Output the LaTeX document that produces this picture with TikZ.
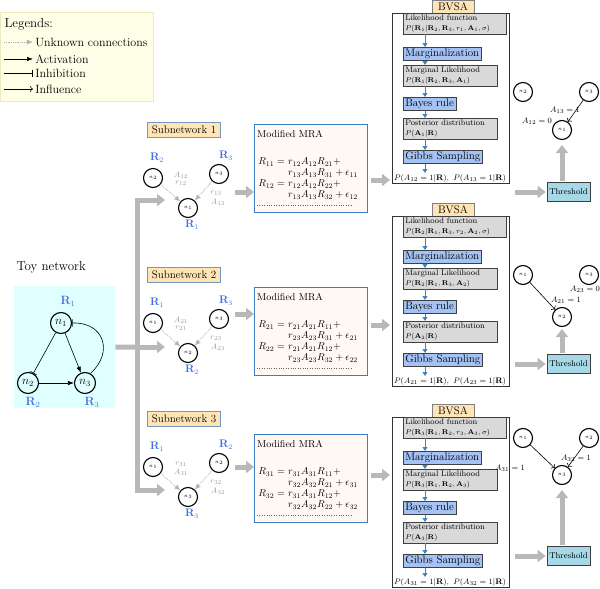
\documentclass[tikz,border=0pt]{standalone}
\usetikzlibrary{arrows.meta}
\definecolor{legbg}{RGB}{255,255,232}
\definecolor{legbd}{RGB}{238,234,190}
\definecolor{toybg}{RGB}{224,255,255}
\definecolor{rblue}{RGB}{70,110,225}
\definecolor{subbg}{RGB}{255,228,181}
\definecolor{subbd}{RGB}{120,150,190}
\definecolor{mrabg}{RGB}{255,248,245}
\definecolor{mrabd}{RGB}{60,125,200}
\definecolor{gbox}{RGB}{217,217,217}
\definecolor{bbox}{RGB}{164,194,244}
\definecolor{sarrow}{RGB}{61,133,198}
\definecolor{thrbg}{RGB}{166,216,231}
\newcommand{\smallmath}{\fontsize{7}{9.5}\selectfont}
\tikzset{
  nd/.style={circle,draw,line width=1.1pt,minimum size=19pt,inner sep=0pt,font=\fontsize{5.5}{5}\selectfont},
  tnd/.style={nd,minimum size=21pt,font=\fontsize{12}{12}\selectfont},
  rlab/.style={text=rblue,inner sep=0pt,font=\fontsize{10.5}{11}\selectfont},
  glab/.style={text=black!40,inner sep=0pt,font=\fontsize{8}{8}\selectfont},
  alab/.style={inner sep=0pt,font=\fontsize{8.5}{8.5}\selectfont},
  unk/.style={draw=black!30,densely dotted,thick,-{Latex[length=6pt,width=5pt]}},
  act/.style={semithick,-{Latex[length=6pt,width=4.5pt]}},
  inh/.style={semithick,-{Bar[width=7pt]}},
  infl/.style={semithick,->},
  big/.style={line width=5pt,draw=black!28},
  bigarrow/.style={big,-{Triangle[length=8pt,width=12pt]}},
  subbox/.style={draw=subbd,fill=subbg,thick,inner xsep=4pt,minimum height=15pt,font=\fontsize{11}{11}\selectfont},
  mrabox/.style={draw=mrabd,fill=mrabg,thick,minimum width=113pt,minimum height=88pt,anchor=north west},
  eq/.style={inner sep=0pt,font=\fontsize{10}{10}\selectfont},
  frm/.style={draw=black!80,semithick,anchor=north west,minimum width=117pt,minimum height=170pt},
  gbx/.style={draw=black!75,fill=gbox,semithick,anchor=north west,align=left,inner sep=2pt,text width=#1,font=\fontsize{8}{9.5}\selectfont},
  bbx/.style={draw=black!75,fill=bbox,semithick,anchor=north west,inner xsep=2pt,inner ysep=0pt,minimum height=13pt,font=\fontsize{11}{11}\selectfont},
  sarr/.style={draw=sarrow,thick,-{Triangle[length=4pt,width=5pt]}},
  thr/.style={draw=black!75,fill=thrbg,semithick,minimum width=43pt,minimum height=19pt,inner sep=0pt,font=\fontsize{8.5}{8.5}\selectfont},
  lbl/.style={draw=black!50,fill=subbg,minimum width=42pt,minimum height=13pt,inner sep=0pt,font=\fontsize{11}{11}\selectfont}
}
\begin{document}
\begin{tikzpicture}[x=1pt,y=-1pt]
\useasboundingbox (0,0) rectangle (600,589);
\node[draw=legbd,fill=legbg,anchor=north west,minimum width=153pt,minimum height=89pt,inner sep=0pt] (leg) at (0,12) {};
\node[anchor=west,font=\fontsize{13}{13}\selectfont] (legh) at (1,24) {Legends:};
\foreach \yy/\st/\txt in {42/unk/Unknown connections,59/act/Activation,73/inh/Inhibition,89/infl/Influence}{
\coordinate (lc\st) at (4,\yy);
\draw[\st] (lc\st) -- ++(29,0) node[right,inner sep=2pt,font=\fontsize{12}{12}\selectfont] (lt\st) {\txt};
}
\node[anchor=west,font=\fontsize{13}{13}\selectfont] (toyt) at (13,267) {Toy network};
\node[fill=toybg,anchor=north west,minimum width=101pt,minimum height=122pt,inner sep=0pt] (toy) at (14,286) {};
\node[tnd] (t1) at (61,323) {$n_1$};
\node[tnd] (t2) at (28,383) {$n_2$};
\node[tnd] (t3) at (85,383) {$n_3$};
\node[rlab,font=\fontsize{11.5}{12}\selectfont] (tr1) at (68,301) {$\mathbf{R}_1$};
\node[rlab,font=\fontsize{11.5}{12}\selectfont] (tr2) at (33,402) {$\mathbf{R}_2$};
\node[rlab,font=\fontsize{11.5}{12}\selectfont] (tr3) at (92,402) {$\mathbf{R}_3$};
\draw[inh] (t1) -- (t2);
\draw[act] (t1) -- (t3);
\draw[act] (t2) -- (t3);
\draw[inh] (t3.60) .. controls (114,352) and (104,322) .. (t1.east);
\coordinate (hub) at (137,347);
\draw[big] (toy.east) -- (hub);
\draw[bigarrow] (hub) |- (165,200);
\draw[bigarrow] (hub) -- (165,347);
\draw[bigarrow] (hub) |- (165,490);
\foreach \r/\a/\b/\yo/\la/\lb/\lc/\ld/\T/\ya in {1/2/3/178/A_{12}/r_{12}/r_{13}/A_{13}/124/192,2/1/3/323/A_{21}/r_{21}/r_{23}/A_{23}/287/314,3/1/2/467/r_{31}/A_{31}/r_{32}/A_{32}/434/467}{
\node[subbox] (sub\r) at (184,\yo-48) {Subnetwork \r};
\node[nd] (sa\r) at (153,\yo) {$n_\a$};
\node[nd] (sb\r) at (219,\yo-4) {$n_\b$};
\node[nd] (st\r) at (188,\yo+30) {$n_\r$};
\node[rlab] (ra\r) at (157,\yo-20) {$\mathbf{R}_\a$};
\node[rlab] (rb\r) at (226,\yo-22) {$\mathbf{R}_\b$};
\node[rlab] (rt\r) at (192,\yo+47) {$\mathbf{R}_\r$};
\draw[unk] (sa\r) -- (st\r);
\draw[unk] (sb\r) -- (st\r);
\node[glab] (ga\r) at (181,\yo-3) {$\la$};
\node[glab] (gb\r) at (181,\yo+5) {$\lb$};
\node[glab] (gc\r) at (216,\yo+15) {$\lc$};
\node[glab] (gd\r) at (218,\yo+24) {$\ld$};
\node[mrabox] (mra\r) at (254,\T) {};
\node[anchor=west,inner sep=0pt,font=\fontsize{10}{10}\selectfont] (mt\r) at (257,\T+10) {Modified MRA};
\foreach \j/\dy in {1/38,2/60}{
\node[eq,anchor=east] (el\r\j) at (288,\T+\dy) {$R_{\r\j}={}$};
\node[eq,anchor=west] (ea\r\j) at (288,\T+\dy) {$r_{\r\a}A_{\r\a}R_{\a\j}+$};
\node[eq,anchor=west] (eb\r\j) at (288,\T+\dy+11) {$r_{\r\b}A_{\r\b}R_{\b\j}+\epsilon_{\r\j}$};
}
\draw[dotted,black!60] ([xshift=3pt,yshift=-81pt]mra\r.north west) -- ++(94,0);
\draw[bigarrow,shorten <=6pt] (sb\r.east |- 0,\ya) -- (mra\r.west |- 0,\ya);
}
\foreach \r/\a/\b/\oy/\yb/\yt in {1/2/3/0/180/192,2/1/3/203/325/364,3/1/2/404/475/556}{
\node[lbl] (bv\r) at (453,\oy+6.5) {BVSA};
\node[frm] (fr\r) at (392,\oy+13) {};
\node[gbx=99pt] (lk\r) at (403,\oy+13) {Likelihood function\\{\smallmath$P(\mathbf{R}_\r|\mathbf{R}_\a,\mathbf{R}_\b,r_\r,\mathbf{A}_\r,\sigma)$}};
\node[bbx] (mg\r) at (403,\oy+47) {Marginalization};
\node[gbx=90pt] (ml\r) at (403,\oy+65) {Marginal Likelihood\\{\smallmath$P(\mathbf{R}_\r|\mathbf{R}_\a,\mathbf{R}_\b,\mathbf{A}_\r)$}};
\node[bbx] (by\r) at (403,\oy+97) {Bayes rule};
\node[gbx=90pt] (ps\r) at (403,\oy+118) {Posterior distribution\\{\smallmath$P(\mathbf{A}_\r|\mathbf{R})$}};
\node[bbx] (gs\r) at (403,\oy+150) {Gibbs Sampling};
\foreach \p/\q in {lk/mg,mg/ml,ml/by,by/ps,ps/gs}{
\draw[sarr] ([xshift=22pt]\p\r.south west) -- ([xshift=22pt]\q\r.north west);
}
\coordinate (ae\r) at (425,\oy+173);
\draw[sarr] ([xshift=22pt]gs\r.south west) -- (ae\r);
\node[eq,font=\fontsize{8}{8}\selectfont] (res\r) at (450,\oy+178.5) {$P(A_{\r\a}=1|\mathbf{R}),\ P(A_{\r\b}=1|\mathbf{R})$};
\draw[bigarrow,shorten <=3pt,shorten >=2pt] (mra\r.east |- 0,\yb) -- (fr\r.west |- 0,\yb);
\node[thr] (th\r) at (568.5,\yt) {Threshold};
\draw[bigarrow,shorten <=5pt,shorten >=1pt] (fr\r.east |- th\r) -- (th\r.west);
}
\node[nd] (f1b) at (523,92) {$n_2$};
\node[nd] (f1c) at (589,92) {$n_3$};
\node[nd] (f1t) at (562,130) {$n_1$};
\draw[infl] (f1c) -- (f1t);
\node[alab] (fc1) at (565,110) {$A_{13}=1$};
\node[alab] (fb1) at (537,121) {$A_{12}=0$};
\draw[bigarrow,shorten <=1pt,shorten >=5pt] (th1.north -| f1t) -- (f1t);
\node[nd] (f2a) at (523,275) {$n_1$};
\node[nd] (f2c) at (589,275) {$n_3$};
\node[nd] (f2t) at (562,317) {$n_2$};
\draw[infl] (f2a) -- (f2t);
\node[alab] (fc2) at (585,289) {$A_{23}=0$};
\node[alab] (fa2) at (566,300) {$A_{21}=1$};
\draw[bigarrow,shorten <=1pt,shorten >=2pt] (th2.north -| f2t) -- (f2t);
\node[nd] (f3a) at (523,438) {$n_1$};
\node[nd] (f3b) at (589,438) {$n_2$};
\node[nd] (f3t) at (562,475) {$n_3$};
\draw[infl] (f3a) -- (f3t);
\draw[infl] (f3b) -- (f3t);
\node[alab] (fb3) at (576,458) {$A_{32}=1$};
\node[alab] (fa3) at (510,468) {$A_{31}=1$};
\draw[bigarrow,shorten <=1pt,shorten >=5pt] (th3.north -| f3t) -- (f3t);
\end{tikzpicture}
\end{document}
